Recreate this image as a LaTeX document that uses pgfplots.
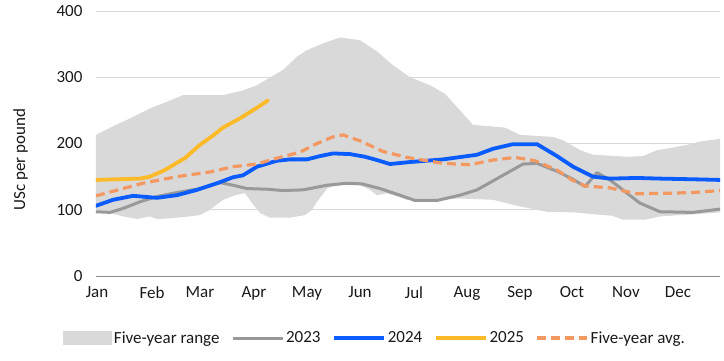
\documentclass[border=0pt]{standalone}
\usepackage{fontspec}
\setmainfont{Carlito}
\usepackage{pgfplots}
\pgfplotsset{compat=1.18}
\usepgfplotslibrary{fillbetween}
\definecolor{rangegray}{RGB}{217,217,217}
\definecolor{gridgray}{RGB}{217,217,217}
\definecolor{c23}{RGB}{153,153,153}
\definecolor{c24}{RGB}{10,92,255}
\definecolor{c25}{RGB}{252,186,40}
\definecolor{cavg}{RGB}{242,152,96}
\definecolor{txt}{RGB}{25,25,25}
\pgfplotsset{longline/.style={legend image code/.code={\draw[##1] (0pt,0pt) -- (50pt,0pt);}}}
\begin{document}
\begin{tikzpicture}
\begin{axis}[
  at={(0pt,0pt)}, anchor=south west,
  scale only axis, width=624pt, height=265pt,
  xmin=96, xmax=720, ymin=0, ymax=400,
  axis lines=left, axis line style={-},
  y axis line style={draw=none},
  x axis line style={draw=black!45, line width=0.9pt},
  major tick length=0pt,
  ytick={0,100,200,300,400},
  xtick={97,152,200,254,307,360,414,467,520,572,626,678},
  xticklabels={Jan,Feb,Mar,Apr,May,Jun,Jul,Aug,Sep,Oct,Nov,Dec},
  ymajorgrids, grid style={gridgray, line width=0.8pt},
  /pgf/number format/assume math mode=true,
  tick label style={font=\fontsize{17}{20}\selectfont, text=txt},
  yticklabel style={xshift=-10pt},
  xticklabel style={yshift=-7pt},
  ylabel={USc per pound},
  ylabel style={font=\fontsize{17}{20}\selectfont, text=txt, at={(axis description cs:-0.121,0.44)}, anchor=center},
  legend columns=5,
  legend style={at={(0.447,-0.234)}, anchor=center, draw=none, fill=none,
    font=\fontsize{17}{20}\selectfont, text=txt,
    /tikz/every even column/.append style={column sep=9.5pt}},
  legend cell align=left,
  line join=round, line cap=round,
]
\addplot[name path=up, draw=none, forget plot] coordinates {
(96,213) (113,226) (133,240) (150,253) (167,263) (183,273) (223,273) (243,280) (257,288)
(267,297) (283,311) (297,331) (307,341) (323,351) (340,360) (360,356) (377,339) (393,318)
(410,300) (430,288) (445,275) (460,250) (473,228) (490,226) (505,224) (520,213) (553,210)
(563,205) (580,190) (593,183) (627,180) (643,181) (657,190) (670,193) (687,198) (700,203) (720,207)
};
\addplot[name path=lo, draw=none, forget plot] coordinates {
(96,100) (110,95) (123,90) (137,86) (150,90) (157,86) (170,87) (190,90) (200,92) (210,100)
(223,115) (235,122) (245,125) (252,110) (260,95) (270,88) (290,88) (305,92) (312,100)
(317,112) (327,132) (337,137) (360,137) (370,130) (377,122) (387,125) (407,115) (437,115)
(460,117) (493,115) (520,105) (547,97) (575,96) (595,93) (612,91) (623,85) (645,85)
(660,90) (693,93) (720,96)
};
\addplot[fill=rangegray, draw=none,
  legend image code/.code={\fill[rangegray] (0pt,-7pt) rectangle (49pt,7pt);}]
  fill between[of=up and lo];
\addlegendentry{Five-year range}

\addplot[c23, line width=3pt, longline] coordinates {
(96,97) (110,96) (123,102) (140,112) (157,120) (177,126) (200,132) (220,141) (233,137)
(247,132) (267,131) (283,129) (303,130) (327,137) (347,140) (362,139) (380,132) (400,122)
(415,114) (437,114) (460,122) (477,130) (503,152) (523,169) (537,170) (557,158) (573,146)
(585,135) (597,156) (610,145) (627,125) (640,110) (660,97) (693,96) (720,101)
};
\addlegendentry{2023}

\addplot[c24, line width=3.8pt, longline] coordinates {
(96,106) (113,115) (133,121) (157,118) (177,122) (197,130) (217,140) (233,149) (243,152)
(257,165) (277,174) (290,176) (307,176) (320,181) (333,185) (350,184) (365,180) (377,175)
(390,169) (410,172) (443,176) (477,183) (493,192) (513,199) (537,199) (557,181) (573,165)
(593,150) (610,147) (637,148) (660,147) (693,146) (720,145)
};
\addlegendentry{2024}

\addplot[c25, line width=3.8pt, longline] coordinates {
(96,145) (117,146) (140,147) (150,150) (165,160) (177,171) (185,178) (200,198) (213,212)
(223,224) (240,238) (257,254) (268,265)
};
\addlegendentry{2025}

\addplot[cavg, line width=3.2pt, dash pattern=on 9pt off 5pt, line cap=butt, longline] coordinates {
(96,121) (123,132) (143,140) (177,150) (210,157) (233,165) (257,169) (270,175) (290,183)
(300,187) (317,200) (333,210) (343,213) (360,204) (383,188) (407,179) (443,170) (470,168)
(493,175) (515,179) (535,174) (557,160) (572,145) (585,136) (610,133) (637,124) (670,125)
(693,126) (720,129)
};
\addlegendentry{Five-year avg.}
\end{axis}
\pgfresetboundingbox
\path[use as bounding box] (-96pt,-85pt) rectangle (628pt,276pt);
\end{tikzpicture}
\end{document}
